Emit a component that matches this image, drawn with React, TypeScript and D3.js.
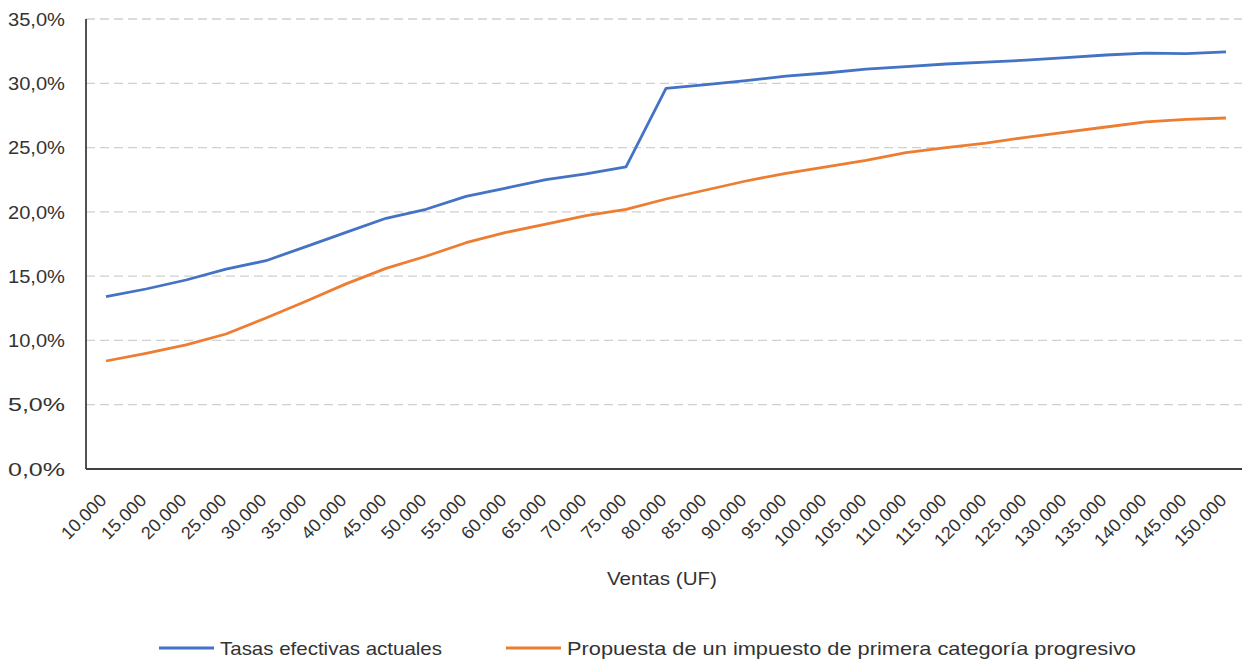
import React from "react";
import * as d3 from "d3";

const categories = [
  "10.000","15.000","20.000","25.000","30.000","35.000","40.000","45.000","50.000","55.000",
  "60.000","65.000","70.000","75.000","80.000","85.000","90.000","95.000","100.000","105.000",
  "110.000","115.000","120.000","125.000","130.000","135.000","140.000","145.000","150.000",
];
const tasasActuales = [
  13.4, 14.0, 14.7, 15.55, 16.2, 17.3, 18.4, 19.5, 20.2, 21.2,
  21.85, 22.5, 22.95, 23.5, 29.6, 29.9, 30.2, 30.55, 30.8, 31.1,
  31.3, 31.5, 31.65, 31.8, 32.0, 32.2, 32.35, 32.3, 32.45,
];
const propuesta = [
  8.4, 9.0, 9.65, 10.5, 11.75, 13.05, 14.4, 15.6, 16.55, 17.6,
  18.4, 19.05, 19.7, 20.2, 21.0, 21.7, 22.4, 23.0, 23.5, 24.0,
  24.6, 25.0, 25.35, 25.8, 26.2, 26.6, 27.0, 27.2, 27.3,
];
const yTicks = [0, 5, 10, 15, 20, 25, 30, 35];
const seriesNames = ["Tasas efectivas actuales", "Propuesta de un impuesto de primera categoría progresivo"];
const seriesColors = ["#4472C4", "#ED7D31"];

const W = 1242, H = 664;
const left = 86, right = 1246, top = 19, bottom = 469;
const FONT = "'Liberation Sans', Arial, sans-serif";

export default function App() {
  const x = d3.scalePoint<string>().domain(categories).range([left, right]).padding(0.5);
  const y = d3.scaleLinear().domain([0, 35]).range([bottom, top]);
  const line = d3.line<number>().x((_, i) => x(categories[i])!).y(d => y(d));
  const fmt = (v: number) => v.toFixed(1).replace(".", ",") + "%";
  const legendItems = [
    { x: 159, name: seriesNames[0], color: seriesColors[0], len: 222 },
    { x: 506, name: seriesNames[1], color: seriesColors[1], len: 569 },
  ];
  return (
    <svg width={W} height={H} style={{ position: "absolute", left: 0, top: 0, background: "#fff" }} fontFamily={FONT}>
      {yTicks.filter(t => t > 0).map(t => (
        <line key={t} x1={left} x2={right} y1={y(t)} y2={y(t)} stroke="#d0d0d0" strokeWidth={1.3} strokeDasharray="9,5" />
      ))}
      {yTicks.map(t => (
        <text key={t} x={65} y={y(t)} dy="0.35em" textAnchor="end" fontSize={19} fill="#333" textLength={57} lengthAdjust="spacingAndGlyphs">{fmt(t)}</text>
      ))}
      <line x1={left} x2={left} y1={top} y2={bottom} stroke="#404040" strokeWidth={1.8} />
      <line x1={left} x2={right} y1={bottom} y2={bottom} stroke="#404040" strokeWidth={1.8} />
      {categories.map(c => (
        <text key={c} transform={`translate(${x(c)! - 3},${bottom + 28}) rotate(-45)`} textAnchor="end" dy="0.35em" fontSize={18} fill="#333">{c}</text>
      ))}
      <text x={662} y={578} dy="0.35em" textAnchor="middle" fontSize={19} fill="#333" textLength={110} lengthAdjust="spacingAndGlyphs">Ventas (UF)</text>
      <path d={line(tasasActuales)!} fill="none" stroke={seriesColors[0]} strokeWidth={2.8} strokeLinejoin="round" />
      <path d={line(propuesta)!} fill="none" stroke={seriesColors[1]} strokeWidth={2.8} strokeLinejoin="round" />
      {legendItems.map(l => (
        <g key={l.name}>
          <line x1={l.x} x2={l.x + 55} y1={648} y2={648} stroke={l.color} strokeWidth={2.8} />
          <text x={l.x + 61} y={648} dy="0.35em" fontSize={19} fill="#333" textLength={l.len} lengthAdjust="spacingAndGlyphs">{l.name}</text>
        </g>
      ))}
    </svg>
  );
}
